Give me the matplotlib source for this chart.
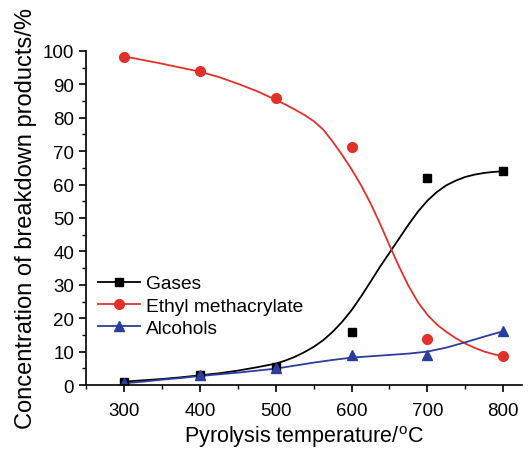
import numpy as np
import matplotlib
matplotlib.use("Agg")
from matplotlib import pyplot as plt
from matplotlib.lines import Line2D
from matplotlib.ticker import MultipleLocator

plt.rcParams["font.family"] = ["Liberation Sans", "DejaVu Sans"]
plt.rcParams["mathtext.fontset"] = "custom"
plt.rcParams["mathtext.rm"] = "Liberation Sans"

# ================================================================
# Data: measured points
# ================================================================
temps = [300, 400, 500, 600, 700, 800]
gases = [1.0, 3.0, 5.5, 16.0, 62.0, 64.0]
ethyl = [98.3, 94.0, 86.0, 71.3, 13.7, 8.6]
alcohols = [0.5, 3.0, 5.0, 9.0, 9.0, 16.3]

# Fitted curves (denser where they bend)
curve_t = [300, 325, 350, 375, 400, 425, 450, 475,
           500, 512.5, 525, 537.5, 550, 562.5, 575, 587.5,
           600, 612.5, 625, 637.5, 650, 662.5, 675, 687.5,
           700, 712.5, 725, 737.5, 750, 762.5, 775, 787.5, 800]
gases_fit = [1.0, 1.4, 1.8, 2.3, 2.9, 3.5, 4.3, 5.3,
             6.4, 7.3, 8.4, 9.8, 11.4, 13.4, 15.9, 18.9,
             22.4, 26.5, 30.9, 35.4, 39.6, 43.8, 48.0, 51.9,
             55.2, 57.8, 59.8, 61.2, 62.3, 63.0, 63.5, 63.8, 64.0]
ethyl_fit = [98.4, 97.3, 96.2, 95.0, 93.8, 92.2, 90.2, 88.0,
             85.4, 84.0, 82.5, 80.9, 79.0, 76.5, 72.9, 68.9,
             64.6, 59.8, 54.4, 48.3, 41.8, 35.5, 29.7, 24.8,
             21.0, 18.1, 15.9, 14.0, 12.4, 11.1, 10.0, 9.2, 8.6]

alc_t = [300, 325, 350, 375, 400, 425, 450, 475, 500, 525, 550,
         575, 600, 625, 650, 675, 700, 725, 750, 775, 800]
alcohols_fit = [0.5, 1.0, 1.6, 2.1, 2.7, 3.2, 3.7, 4.3, 4.9, 5.8, 6.7,
                7.5, 8.2, 8.6, 9.0, 9.4, 10.0, 11.2, 12.8, 14.5, 16.1]

BLACK = "black"
RED = "#e2312a"
BLUE = "#2b3d9f"

# ================================================================
# Plot
# ================================================================
fig = plt.figure(figsize=(5.32, 4.52), dpi=100)
ax = fig.add_axes([0.1617, 0.146, 0.82, 0.739])

ax.plot(curve_t, gases_fit, color=BLACK, lw=1.3)
ax.plot(curve_t, ethyl_fit, color=RED, lw=1.3)
ax.plot(alc_t, alcohols_fit, color=BLUE, lw=1.3)

ax.plot(temps, gases, ls="none", marker="s", ms=6, color=BLACK)
ax.plot(temps, ethyl, ls="none", marker="o", ms=7, color=RED)
ax.plot(temps, alcohols, ls="none", marker="^", ms=7.5, color=BLUE)

# axis setup
ax.set_xlim(250, 825)
ax.set_ylim(0, 100)
ax.xaxis.set_major_locator(MultipleLocator(100))
ax.xaxis.set_minor_locator(MultipleLocator(50))
ax.yaxis.set_major_locator(MultipleLocator(10))
ax.yaxis.set_minor_locator(MultipleLocator(5))
for side in ("top", "right"):
    ax.spines[side].set_visible(False)
for side in ("left", "bottom"):
    ax.spines[side].set_linewidth(1.2)
ax.tick_params(which="major", length=5, width=1.2, labelsize=13.5, direction="out")
ax.tick_params(which="minor", length=3, width=1.0, direction="out")
ax.tick_params(axis="x", which="major", pad=7)
ax.set_xticks([300, 400, 500, 600, 700, 800])

ax.set_xlabel("Pyrolysis temperature/$^\\mathrm{o}$C", fontsize=15.5, labelpad=3)
ax.set_ylabel("Concentration of breakdown products/%", fontsize=17, labelpad=4)

# legend: line + marker handles
handles = [
    Line2D([], [], color=BLACK, lw=1.3, marker="s", ms=6),
    Line2D([], [], color=RED, lw=1.3, marker="o", ms=7),
    Line2D([], [], color=BLUE, lw=1.3, marker="^", ms=7.5),
]
ax.legend(handles, ["Gases", "Ethyl methacrylate", "Alcohols"],
          loc="lower left", bbox_to_anchor=(0.0, 0.11), frameon=False,
          fontsize=13.8, handlelength=2.2, handletextpad=0.35,
          labelspacing=0.25, borderaxespad=0.2)

fig.savefig("out.png", dpi=100)
